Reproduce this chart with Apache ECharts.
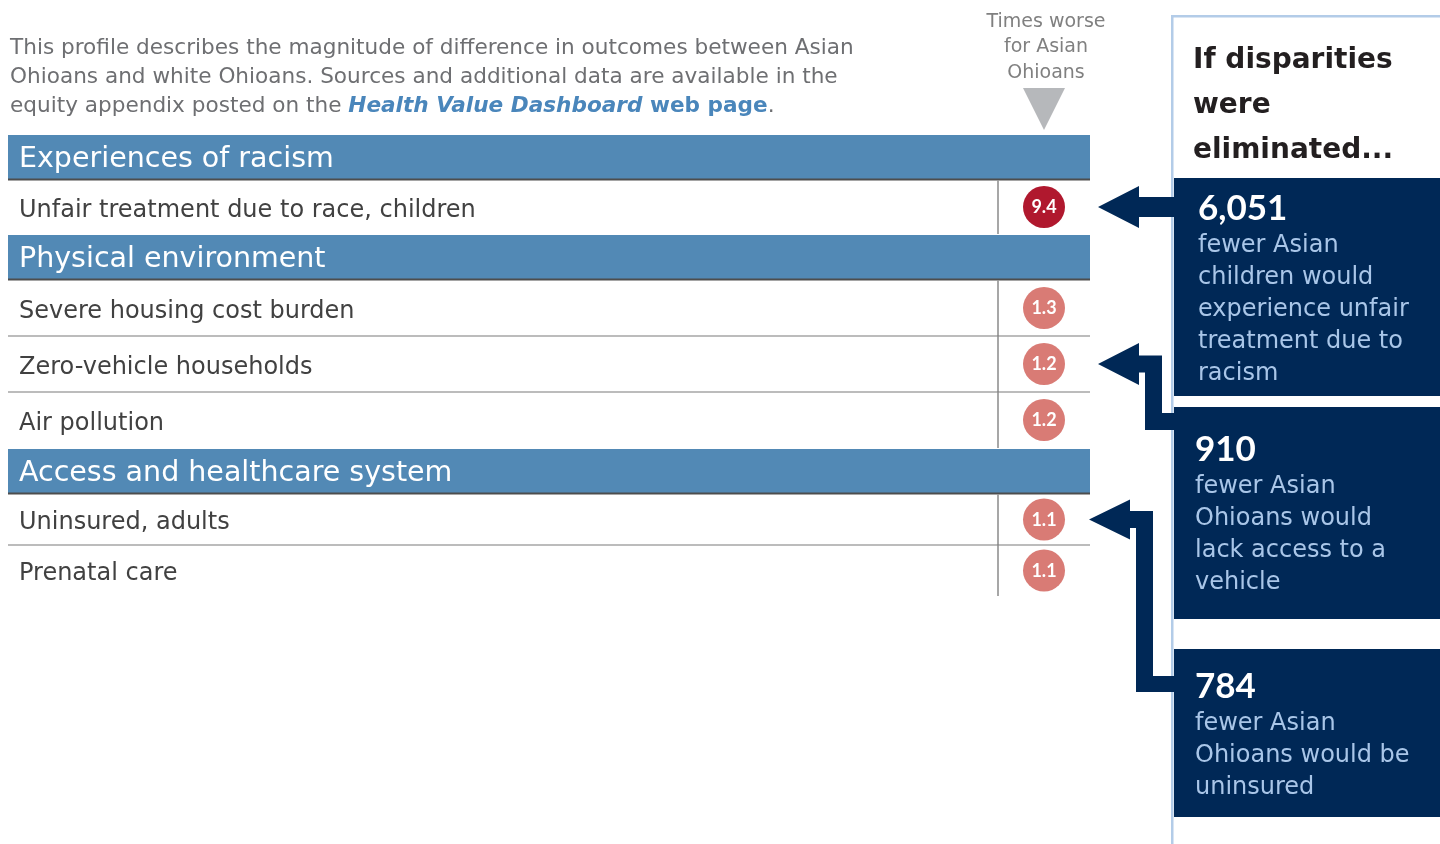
<!DOCTYPE html>
<html>
<head>
<meta charset="utf-8">
<script src="https://cdn.jsdelivr.net/npm/echarts@6/dist/echarts.min.js"></script>
<style>
html,body{margin:0;padding:0;background:#fff;}
#chart{width:1440px;height:844px;}
</style>
</head>
<body>
<div id="chart"></div>
<script>
// ---------- data ----------
const introLines = [
  'This profile describes the magnitude of difference in outcomes between Asian',
  'Ohioans and white Ohioans. Sources and additional data are available in the',
  'equity appendix posted on the '
];
const introLink = 'Health Value Dashboard';
const introLinkTail = ' web page';
const columnTitle = ['Times worse', 'for Asian', 'Ohioans'];
const sectionNames = ['Experiences of racism', 'Physical environment', 'Access and healthcare system'];
const racismRows = ['Unfair treatment due to race, children'];
const racismValues = [9.4];
const physicalRows = ['Severe housing cost burden', 'Zero-vehicle households', 'Air pollution'];
const physicalValues = [1.3, 1.2, 1.2];
const accessRows = ['Uninsured, adults', 'Prenatal care'];
const accessValues = [1.1, 1.1];
const panelTitle = ['If disparities', 'were', 'eliminated...'];
const impactNumbers = ['6,051', '910', '784'];
const impactLines = [
  ['fewer Asian', 'children would', 'experience unfair', 'treatment due to', 'racism'],
  ['fewer Asian', 'Ohioans would', 'lack access to a', 'vehicle'],
  ['fewer Asian', 'Ohioans would be', 'uninsured']
];
// which section / row each impact box points to
const impactSection = [0, 1, 2];
const impactRow = [0, 1, 0];

// ---------- styles ----------
const FONT = '"DejaVu Sans", Verdana, sans-serif';
const NUMFONT = 'Lato, "Noto Sans", sans-serif';
const HEADER_BLUE = '#5289b5';
const NAVY = '#002856';
const RED = '#b0182e';
const SALMON = '#d97b75';
const COL_W = 92;
const HEADER_H = 45;

const sectionRows = [racismRows, physicalRows, accessRows];
const sectionValues = [racismValues, physicalValues, accessValues];
const gridTops = [180, 280, 494];
const gridHeights = [54, 168, 102];

function makeRender(sectionIndex) {
  const n = sectionRows[sectionIndex].length;
  return function (params, api) {
    const cs = params.coordSys;
    const idx = api.value(1);
    const v = api.value(0);
    const yc = api.coord([0, idx])[1];
    const bh = api.size([0, 1])[1];
    const top = yc - bh / 2, bot = yc + bh / 2;
    const colX = cs.x + cs.width - COL_W;
    const cx = colX + COL_W / 2;
    const children = [];
    if (idx === 0) {
      children.push({type: 'rect', shape: {x: cs.x, y: cs.y - HEADER_H, width: cs.width, height: HEADER_H}, style: {fill: HEADER_BLUE}});
      children.push({type: 'rect', shape: {x: cs.x, y: cs.y - 1.5, width: cs.width, height: 2}, style: {fill: '#4d4d4d'}});
      children.push({type: 'text', style: {text: sectionNames[sectionIndex], x: cs.x + 11, y: cs.y - HEADER_H / 2 + 2, verticalAlign: 'middle', align: 'left', fill: '#ffffff', font: '28.5px ' + FONT}});
    }
    children.push({type: 'line', shape: {x1: colX, y1: top + (idx === 0 ? 0.5 : 0), x2: colX, y2: bot}, style: {stroke: '#8a8a8a', lineWidth: 1.5}});
    if (idx < n - 1) {
      children.push({type: 'line', shape: {x1: cs.x, y1: bot, x2: cs.x + cs.width, y2: bot}, style: {stroke: '#7a7a7a', lineWidth: 1.2}});
    }
    children.push({type: 'circle', shape: {cx: cx, cy: yc, r: 21}, style: {fill: v >= 2 ? RED : SALMON}});
    children.push({type: 'text', style: {text: v.toFixed(1), x: cx, y: yc + 0.5, align: 'center', verticalAlign: 'middle', fill: '#ffffff', font: 'bold 18px ' + NUMFONT}});
    return {type: 'group', children: children};
  };
}

const chart = echarts.init(document.getElementById('chart'), null, {renderer: 'canvas'});

const grids = [], xAxes = [], yAxes = [], series = [];
for (let s = 0; s < 3; s++) {
  grids.push({left: 8, width: 1082, top: gridTops[s], height: gridHeights[s], containLabel: false});
  xAxes.push({type: 'value', gridIndex: s, min: 0, max: 10, show: false});
  yAxes.push({
    type: 'category', gridIndex: s, data: sectionRows[s], inverse: true,
    axisLine: {show: false}, axisTick: {show: false}, splitLine: {show: false},
    axisLabel: {
      inside: true, margin: 11,
      formatter: function (v) { return '{a|' + v + '}'; },
      rich: {a: {fontSize: 24, color: '#414141', fontFamily: FONT, padding: [7, 0, 0, 0]}}
    }
  });
  series.push({
    type: 'custom', xAxisIndex: s, yAxisIndex: s, clip: false,
    data: sectionValues[s].map((v, i) => [v, i]),
    encode: {x: 0, y: 1},
    renderItem: makeRender(s),
    z: 2
  });
}

chart.setOption({
  animation: false,
  backgroundColor: '#ffffff',
  grid: grids, xAxis: xAxes, yAxis: yAxes, series: series
});

// ---------- annotations ----------
const graphics = [];
// intro
graphics.push({
  type: 'text', left: 10, top: 37,
  style: {
    text: '{n|' + introLines[0] + '}\n{n|' + introLines[1] + '}\n{n|' + introLines[2] + '}{l|' + introLink + '}{w|' + introLinkTail + '}{n|.}',
    rich: {
      n: {fontSize: 21.6, fontFamily: FONT, fill: '#6e6f72', lineHeight: 29},
      l: {fontSize: 21.6, fontFamily: FONT, fill: '#4a86bb', fontWeight: 'bold', fontStyle: 'italic', lineHeight: 29},
      w: {fontSize: 21.6, fontFamily: FONT, fill: '#4a86bb', fontWeight: 'bold', lineHeight: 29}
    }
  }
});
// column title
graphics.push({
  type: 'text', x: 1046, y: 9,
  style: {text: columnTitle.join('\n'), align: 'center', verticalAlign: 'top', fill: '#808080', font: '19px ' + FONT, lineHeight: 25.5}
});
graphics.push({type: 'polygon', shape: {points: [[1023, 88], [1065, 88], [1044, 130]]}, style: {fill: '#b6b8bb'}});
// right panel frame
graphics.push({type: 'rect', shape: {x: 1171, y: 15, width: 2.5, height: 829}, style: {fill: '#b3cce8'}});
graphics.push({type: 'rect', shape: {x: 1171, y: 15, width: 269, height: 2.5}, style: {fill: '#b3cce8'}});
graphics.push({
  type: 'text', x: 1193, y: 38,
  style: {text: panelTitle.join('\n'), fill: '#231f20', font: 'bold 28px ' + FONT, lineHeight: 45, verticalAlign: 'top'}
});
// impact boxes
const boxTops = [178, 407, 649];
const boxBottoms = [396, 619, 817];
const textTops = [188, 429, 666];
const textLefts = [1198, 1195, 1195];
for (let k = 0; k < 3; k++) {
  graphics.push({type: 'rect', shape: {x: 1174, y: boxTops[k], width: 266, height: boxBottoms[k] - boxTops[k]}, style: {fill: NAVY}});
  graphics.push({
    type: 'text', x: textLefts[k], y: textTops[k],
    style: {
      text: '{num|' + impactNumbers[k] + '}\n' + impactLines[k].map(t => '{d|' + t + '}').join('\n'),
      verticalAlign: 'top',
      rich: {
        num: {fontSize: 35, fontWeight: 'bold', fontFamily: NUMFONT, fill: '#ffffff', lineHeight: 42},
        d: {fontSize: 24, fontFamily: FONT, fill: '#a9c6e8', lineHeight: 32}
      }
    }
  });
}
// arrows, tips placed on the row they refer to
function rowY(k) {
  return chart.convertToPixel({yAxisIndex: impactSection[k]}, impactRow[k]);
}
const t1 = rowY(0), t2 = rowY(1), t3 = rowY(2);
graphics.push({type: 'polygon', shape: {points: [[1098, t1], [1139, t1 - 21], [1139, t1 - 10], [1174, t1 - 10], [1174, t1 + 10], [1139, t1 + 10], [1139, t1 + 21]]}, style: {fill: NAVY}});
graphics.push({type: 'polygon', shape: {points: [[1098, t2], [1139, t2 - 21], [1139, t2 - 8.5], [1162, t2 - 8.5], [1162, 413], [1174, 413], [1174, 430], [1145, 430], [1145, t2 + 8.5], [1139, t2 + 8.5], [1139, t2 + 21]]}, style: {fill: NAVY}});
graphics.push({type: 'polygon', shape: {points: [[1089, t3], [1130, t3 - 20], [1130, t3 - 8.5], [1153, t3 - 8.5], [1153, 676], [1174, 676], [1174, 692], [1136, 692], [1136, t3 + 8.5], [1130, t3 + 8.5], [1130, t3 + 20]]}, style: {fill: NAVY}});

chart.setOption({graphic: graphics});
</script>
</body>
</html>
